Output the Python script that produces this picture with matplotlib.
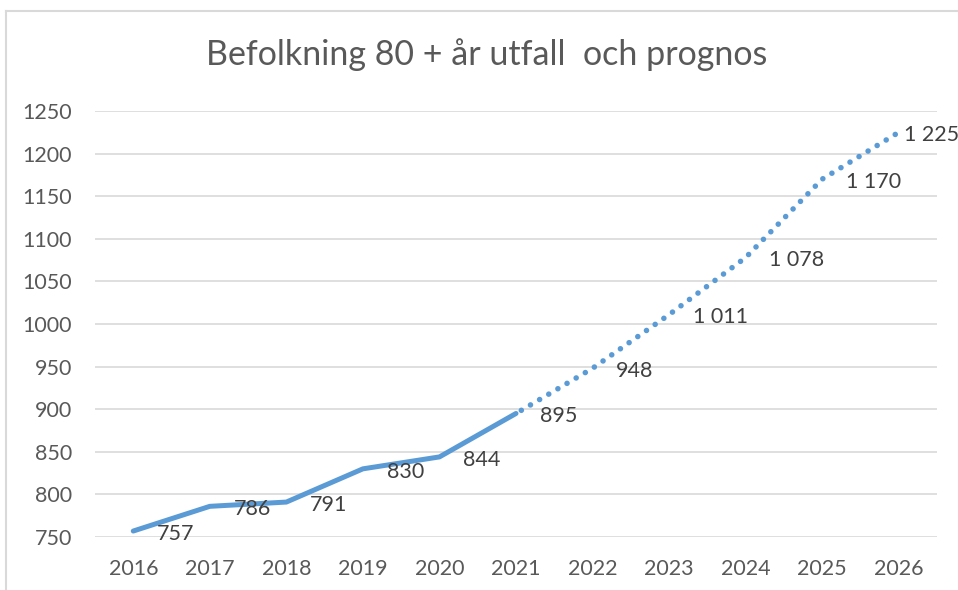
import matplotlib.pyplot as plt
from matplotlib.lines import Line2D

years = ['2016', '2017', '2018', '2019', '2020', '2021',
         '2022', '2023', '2024', '2025', '2026']
utfall = [757, 786, 791, 830, 844, 895]
prognos = [948, 1011, 1078, 1170, 1225]
labels = ['757', '786', '791', '830', '844', '895',
          '948', '1 011', '1 078', '1 170', '1 225']

plt.rcParams['font.family'] = ['Lato', 'DejaVu Sans']
blue = '#5B9BD5'
grey = '#595959'

fig = plt.figure(figsize=(9.58, 5.9), dpi=100)
ax = fig.add_axes([95 / 958, 53 / 590, 842 / 958, 426 / 590])

x_all = list(range(len(years)))
x_ut = x_all[:len(utfall)]
x_pr = x_all[len(utfall) - 1:]

ax.plot(x_ut, utfall, color=blue, lw=3.6, solid_capstyle='round',
        solid_joinstyle='round', zorder=3)
ax.plot(x_pr, [utfall[-1]] + prognos, color=blue, lw=4,
        linestyle=(0.8, (0.01, 1.9)), dash_capstyle='round', zorder=3)

values = utfall + prognos
for i, (xi, v, lab) in enumerate(zip(x_all, values, labels)):
    # Excel pulls the last label in so it fits inside the chart
    dx = 4 if i == len(values) - 1 else 17
    ax.annotate(lab, (xi, v), xytext=(dx, -2), textcoords='offset points',
                ha='left', va='center', fontsize=15.5, color='#404040')

ax.set_xlim(-0.5, len(years) - 0.5)
ax.set_ylim(750, 1250)
ax.set_yticks(range(750, 1251, 50))
ax.set_xticks(x_all)
ax.set_xticklabels(years)
ax.grid(axis='y', color='#D9D9D9', lw=1.2)
ax.set_axisbelow(True)
for s in ax.spines.values():
    s.set_visible(False)
ax.tick_params(length=0, labelsize=15.5, colors=grey)
ax.tick_params(axis='x', pad=16)
ax.tick_params(axis='y', pad=16.5)

fig.text(487 / 958, 1 - 55 / 590, 'Befolkning 80 + år utfall  och prognos',
         ha='center', va='center', fontsize=24.5, color=grey)

# chart area border (only top and left visible)
fig.add_artist(Line2D([6 / 958, 6 / 958], [0, 1 - 11 / 590],
                      transform=fig.transFigure, color='#D9D9D9', lw=1.5))
fig.add_artist(Line2D([6 / 958, 1], [1 - 11 / 590, 1 - 11 / 590],
                      transform=fig.transFigure, color='#D9D9D9', lw=1.5))

fig.savefig('out.png', dpi=100)
